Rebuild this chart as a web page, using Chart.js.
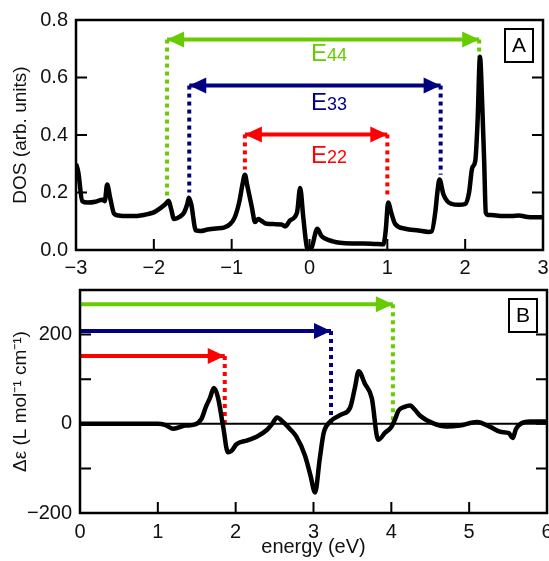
<!DOCTYPE html>
<html>
<head>
<meta charset="utf-8">
<script src="https://cdn.jsdelivr.net/npm/chart.js@4.4.0/dist/chart.umd.min.js"></script>
<style>
html, body { margin: 0; padding: 0; background: #fff; overflow: hidden; }
#wrap { position: relative; width: 549px; height: 561px; }
canvas { position: absolute; left: 0; }
#dos { top: 0; }
#cd { top: 270px; }
</style>
</head>
<body>
<div id="wrap">
  <canvas id="dos" width="560" height="280"></canvas>
  <canvas id="cd" width="560" height="291"></canvas>
</div>
<script>
// panel A : density of states
const dosEnergy = [-3, -2.97, -2.92, -2.85, -2.75, -2.66, -2.63, -2.60, -2.56, -2.51, -2.45, -2.38, -2.25, -2.17,
  -2.08, -2.0, -1.92, -1.85, -1.81, -1.78, -1.74, -1.67, -1.61, -1.57, -1.55, -1.52, -1.46, -1.40, -1.31, -1.20,
  -1.10, -1.02, -0.96, -0.90, -0.86, -0.83, -0.80, -0.74, -0.70, -0.66, -0.62, -0.55, -0.45, -0.36, -0.31, -0.25,
  -0.16, -0.12, -0.08, -0.03, 0.0, 0.03, 0.10, 0.15, 0.20, 0.30, 0.39, 0.55, 0.69, 0.85, 0.95, 0.98, 1.01, 1.05,
  1.10, 1.23, 1.40, 1.53, 1.57, 1.62, 1.64, 1.67, 1.72, 1.77, 1.83, 1.92, 2.0, 2.05, 2.09, 2.13, 2.16, 2.19, 2.22,
  2.245, 2.265, 2.30, 2.40, 2.47, 2.60, 2.69, 2.80, 2.90, 3.0];
const dosValue = [0.30, 0.27, 0.17, 0.165, 0.168, 0.175, 0.17, 0.228, 0.18, 0.126, 0.12, 0.118, 0.118, 0.12,
  0.125, 0.131, 0.145, 0.16, 0.171, 0.145, 0.108, 0.115, 0.131, 0.16, 0.182, 0.16, 0.068, 0.066, 0.071, 0.075,
  0.078, 0.09, 0.114, 0.17, 0.23, 0.262, 0.225, 0.148, 0.097, 0.108, 0.102, 0.091, 0.09, 0.089, 0.082, 0.103,
  0.131, 0.216, 0.114, 0.006, 0.0, 0.01, 0.074, 0.05, 0.04, 0.03, 0.025, 0.023, 0.023, 0.021, 0.02, 0.07, 0.165, 0.13,
  0.091, 0.074, 0.068, 0.063, 0.065, 0.14, 0.194, 0.245, 0.194, 0.17, 0.16, 0.157, 0.16, 0.2, 0.285, 0.31, 0.45, 0.672, 0.50,
  0.30, 0.13, 0.122, 0.12, 0.118, 0.118, 0.12, 0.115, 0.114, 0.114];

// transitions E44, E33, E22
const transNames = ['44', '33', '22'];
const transColors = ['#66cc00', '#000080', '#ff0000'];
const transLevel = [0.732, 0.572, 0.402];
const transLeft = [-1.83, -1.545, -0.83];
const transRight = [2.18, 1.685, 1.0];
const transLeftFoot = [0.18, 0.20, 0.28];
const transRightFoot = [0.67, 0.262, 0.182];
const transLabelX = [0.25, 0.25, 0.25];
const transLabelY = [0.656, 0.486, 0.304];

// panel B : CD spectrum
const cdEnergy = [0, 0.5, 1.0, 1.1, 1.2, 1.35, 1.47, 1.56, 1.62, 1.67, 1.72, 1.77, 1.84, 1.90, 1.95, 2.01, 2.15,
  2.27, 2.40, 2.47, 2.53, 2.61, 2.70, 2.78, 2.89, 2.96, 3.02, 3.08, 3.13, 3.21, 3.36, 3.47, 3.53, 3.58, 3.66, 3.75,
  3.83, 3.92, 4.0, 4.05, 4.09, 4.17, 4.24, 4.30, 4.37, 4.54, 4.71, 4.88, 5.10, 5.27, 5.40, 5.51, 5.56, 5.60, 5.66,
  5.78, 6.0];
const cdValue = [0, 0, 0, -3, -11, -4, -2, 11, 39, 58, 80, 61, -7, -64, -60, -46, -37,
  -29, -14, 0, 14, 4, -12, -29, -71, -115, -154, -79, -21, 4, 21, 36, 79, 118, 90, 57,
  -36, -20, -7, 11, 29, 38, 41, 32, 18, 1, -6, -4, 4, -7, -18, -21, -32, -12, 0,
  5, 5];
const cdArrowTo = [1.86, 3.225, 4.02];
const cdArrowLevel = [152, 208, 268];
const cdColors = ['#ff0000', '#000080', '#66cc00'];

const FONT = "'Liberation Sans', Arial, Helvetica, sans-serif";
const fmt = v => v < 0 ? '\u2212' + Math.abs(v) : String(v);

function lineSet(pts, color, width, dash) {
  return {
    data: pts, showLine: true, borderColor: color, borderWidth: width,
    borderDash: dash || [], pointRadius: 0, borderCapStyle: 'butt',
    borderJoinStyle: 'round', tension: 0
  };
}

// frame, inward ticks, arrow heads, labels
const deco = {
  id: 'deco',
  afterDatasetsDraw(chart, args, opts) {
    const { ctx, chartArea: a, scales: { x, y } } = chart;
    ctx.save();
    ctx.strokeStyle = '#000';
    ctx.lineWidth = 2;
    ctx.beginPath();
    y.ticks.forEach(t => {
      const py = y.getPixelForValue(t.value);
      if (py <= a.top + 2 || py >= a.bottom - 2) return;
      ctx.moveTo(a.left, py); ctx.lineTo(a.left + 11, py);
      ctx.moveTo(a.right, py); ctx.lineTo(a.right - 11, py);
    });
    x.ticks.forEach(t => {
      const px = x.getPixelForValue(t.value);
      if (px <= a.left + 2 || px >= a.right - 2) return;
      ctx.moveTo(px, a.bottom); ctx.lineTo(px, a.bottom - 11);
    });
    ctx.stroke();
    ctx.lineWidth = 2.5;
    ctx.strokeRect(a.left, a.top, a.right - a.left, a.bottom - a.top);

    (opts.heads || []).forEach(h => {
      const px = x.getPixelForValue(h.x), py = y.getPixelForValue(h.y);
      ctx.fillStyle = h.color;
      ctx.beginPath();
      ctx.moveTo(px, py);
      ctx.lineTo(px - h.dir * 17, py - 8);
      ctx.lineTo(px - h.dir * 17, py + 8);
      ctx.closePath();
      ctx.fill();
    });

    (opts.labels || []).forEach(l => {
      ctx.font = '24px ' + FONT;
      const w1 = ctx.measureText('E').width;
      ctx.font = '18px ' + FONT;
      const w2 = ctx.measureText(l.sub).width;
      const cx = x.getPixelForValue(l.x), by = y.getPixelForValue(l.y);
      const x0 = cx - (w1 + w2) / 2;
      ctx.fillStyle = l.color;
      ctx.textBaseline = 'alphabetic';
      ctx.textAlign = 'left';
      ctx.font = '24px ' + FONT;
      ctx.fillText('E', x0, by);
      ctx.font = '18px ' + FONT;
      ctx.fillText(l.sub, x0 + w1, by);
    });

    if (opts.panel) {
      const bw = 28, bh = 33;
      const bx = a.right - 10 - bw, by = a.top + 9;
      ctx.lineWidth = 2;
      ctx.strokeStyle = '#000';
      ctx.strokeRect(bx, by, bw, bh);
      ctx.fillStyle = '#000';
      ctx.font = '21px ' + FONT;
      ctx.textAlign = 'center';
      ctx.textBaseline = 'middle';
      ctx.fillText(opts.panel, bx + bw / 2, by + bh / 2 + 1);
    }
    ctx.restore();
  }
};

Chart.defaults.font.family = FONT;
Chart.defaults.color = '#111';

const noGrid = { display: false, drawTicks: false };

// ---------- panel A ----------
const dosCurve = lineSet(dosEnergy.map((e, i) => ({ x: e, y: dosValue[i] })), '#000', 4.5);
dosCurve.cubicInterpolationMode = 'monotone';
const dosSets = [dosCurve];
const dosHeads = [];
const dosLabels = [];
transNames.forEach((n, i) => {
  const c = transColors[i];
  dosSets.push(lineSet([{ x: transLeft[i], y: transLevel[i] }, { x: transRight[i], y: transLevel[i] }], c, 4));
  dosSets.push(lineSet([{ x: transLeft[i], y: transLevel[i] }, { x: transLeft[i], y: transLeftFoot[i] }], c, 4, [4, 4]));
  dosSets.push(lineSet([{ x: transRight[i], y: transLevel[i] }, { x: transRight[i], y: transRightFoot[i] }], c, 4, [4, 4]));
  dosHeads.push({ x: transLeft[i], y: transLevel[i], dir: -1, color: c });
  dosHeads.push({ x: transRight[i], y: transLevel[i], dir: 1, color: c });
  dosLabels.push({ x: transLabelX[i], y: transLabelY[i], sub: n, color: c });
});

new Chart(document.getElementById('dos'), {
  type: 'scatter',
  data: { datasets: dosSets },
  options: {
    responsive: false,
    animation: false,
    layout: { padding: { top: 16, right: 17, left: 0, bottom: 0 } },
    plugins: {
      legend: { display: false },
      tooltip: { enabled: false },
      deco: { heads: dosHeads, labels: dosLabels, panel: 'A' }
    },
    scales: {
      x: {
        type: 'linear', min: -3, max: 3,
        ticks: { stepSize: 1, padding: 6, font: { size: 20 }, callback: v => fmt(v), maxRotation: 0 },
        grid: noGrid, border: { display: false },
        afterFit: s => { s.height = 30; }
      },
      y: {
        min: 0, max: 0.8,
        ticks: { stepSize: 0.2, padding: 8, font: { size: 20 }, callback: v => v.toFixed(1) },
        grid: noGrid, border: { display: false },
        title: { display: true, text: 'DOS (arb. units)', font: { size: 19 }, padding: { top: 9, bottom: 0 } },
        afterFit: s => { s.width = 76; }
      }
    }
  },
  plugins: [deco]
});

// ---------- panel B ----------
const cdCurve = lineSet(cdEnergy.map((e, i) => ({ x: e, y: cdValue[i] })), '#000', 4.5);
cdCurve.cubicInterpolationMode = 'monotone';
const cdSets = [cdCurve, lineSet([{ x: 0, y: 0 }, { x: 6, y: 0 }], '#000', 2)];
const cdHeads = [];
cdArrowTo.forEach((t, i) => {
  const c = cdColors[i];
  cdSets.push(lineSet([{ x: 0, y: cdArrowLevel[i] }, { x: t, y: cdArrowLevel[i] }], c, 4));
  cdSets.push(lineSet([{ x: t, y: cdArrowLevel[i] }, { x: t, y: 0 }], c, 4, [4, 4]));
  cdHeads.push({ x: t, y: cdArrowLevel[i], dir: 1, color: c });
});

new Chart(document.getElementById('cd'), {
  type: 'scatter',
  data: { datasets: cdSets },
  options: {
    responsive: false,
    animation: false,
    layout: { padding: { top: 10, right: 13, left: 0, bottom: 0 } },
    plugins: {
      legend: { display: false },
      tooltip: { enabled: false },
      deco: { heads: cdHeads, panel: 'B' }
    },
    scales: {
      x: {
        type: 'linear', min: 0, max: 6,
        ticks: { stepSize: 1, padding: 7, font: { size: 20 }, callback: v => fmt(v), maxRotation: 0 },
        grid: noGrid, border: { display: false },
        title: { display: true, text: 'energy (eV)', font: { size: 20 }, padding: { top: 0, bottom: 2 } },
        afterFit: s => { s.height = 48; }
      },
      y: {
        min: -200, max: 300,
        ticks: { stepSize: 100, padding: 8, font: { size: 20 }, callback: v => (v % 200 === 0 ? fmt(v) : '') },
        grid: noGrid, border: { display: false },
        title: { display: true, text: '\u0394\u03b5 (L mol\u207b\u00b9 cm\u207b\u00b9)', font: { size: 19 }, padding: { top: 9, bottom: 0 } },
        afterFit: s => { s.width = 80; }
      }
    }
  },
  plugins: [deco]
});
</script>
</body>
</html>
